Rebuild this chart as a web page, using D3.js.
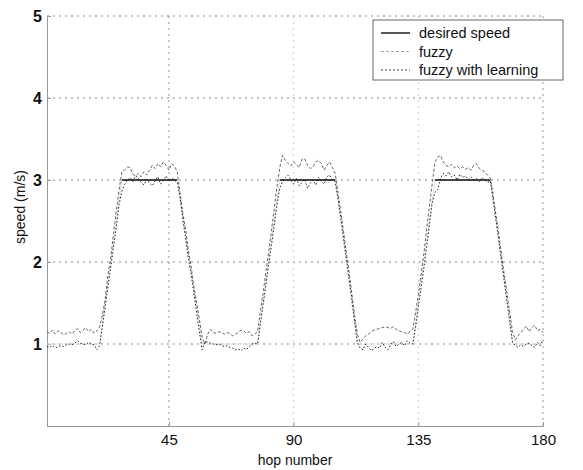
<!DOCTYPE html>
<html lang="en">
<head>
<meta charset="UTF-8" />
<title>speed vs hop number</title>
<script src="https://cdn.jsdelivr.net/npm/d3@7"></script>
<style>
  body { margin: 0; background: #fff; }
  svg { font-family: "Liberation Sans", Arial, sans-serif; }
</style>
</head>
<body>
<div id="chart"></div>
<script>
// desired speed as break points (hop, m/s)
const desiredHops  = [1, 20, 28, 48, 57, 77, 85, 105, 113, 133, 141, 161, 169, 180];
const desiredSpeed = [1, 1, 3, 3, 1, 1, 3, 3, 1, 1, 3, 3, 1, 1];

// fuzzy controller, hop 1..180
const fuzzy = [
  1.15,1.13,1.17,1.12,1.16,1.14,1.11,1.13,1.15,1.12,1.16,1.19,1.14,1.17,1.20,1.15,1.18,1.13,1.16,1.21,
  1.35,1.55,1.85,2.05,2.35,2.62,2.88,3.10,
  3.12,3.16,3.15,3.07,3.05,3.08,3.04,3.10,3.06,3.12,3.18,3.14,3.20,3.16,3.22,3.18,3.12,3.20,3.17,3.10,
  2.85,2.60,2.40,2.15,1.95,1.70,1.50,1.30,1.08,
  1.00,1.12,1.18,1.14,1.13,1.15,1.14,1.12,1.14,1.13,1.10,1.12,1.14,1.17,1.16,1.13,1.15,1.10,1.12,1.15,
  1.40,1.62,1.88,2.12,2.38,2.65,2.92,3.15,
  3.30,3.24,3.20,3.17,3.22,3.19,3.15,3.25,3.26,3.18,3.14,3.16,3.22,3.24,3.20,3.12,3.18,3.22,3.15,3.08,
  2.85,2.62,2.38,2.12,1.88,1.62,1.35,1.12,
  1.02,1.06,1.10,1.12,1.15,1.17,1.18,1.19,1.20,1.21,1.20,1.19,1.21,1.18,1.16,1.15,1.14,1.12,1.15,1.18,
  1.38,1.60,1.85,2.10,2.40,2.68,2.95,3.22,
  3.28,3.30,3.22,3.18,3.16,3.19,3.15,3.17,3.14,3.16,3.13,3.15,3.12,3.18,3.20,3.14,3.12,3.10,3.06,3.02,
  2.82,2.58,2.35,2.10,1.85,1.62,1.38,1.15,
  1.05,1.10,1.14,1.18,1.22,1.15,1.20,1.23,1.16,1.18,1.14
];

// fuzzy with learning, hop 1..180
const learning = [
  0.97,0.96,0.98,0.95,0.97,0.98,0.97,0.99,1.00,0.99,1.01,1.04,1.01,1.00,0.99,1.02,1.00,0.99,0.93,0.98,
  1.22,1.45,1.70,1.93,2.18,2.42,2.70,2.86,
  2.95,3.00,3.03,2.98,3.05,3.02,2.97,2.94,3.01,2.96,2.93,2.99,3.04,2.95,3.00,3.05,2.98,3.02,3.00,2.97,
  2.80,2.52,2.30,2.05,1.85,1.62,1.38,1.15,0.93,
  1.03,1.02,1.01,1.00,0.99,1.00,0.98,0.97,0.98,0.96,0.95,0.93,0.94,0.92,0.95,0.93,0.97,1.00,1.01,1.00,
  1.25,1.48,1.72,1.97,2.20,2.45,2.70,2.90,
  2.98,3.03,3.06,3.00,2.95,3.02,2.93,2.97,3.01,2.90,2.96,3.00,2.94,3.03,2.98,2.95,3.04,3.06,3.00,2.98,
  2.78,2.55,2.30,2.05,1.80,1.55,1.28,1.02,
  0.95,0.93,1.00,0.96,0.92,0.94,0.97,0.95,1.02,0.96,0.93,0.99,1.03,0.97,1.00,1.02,0.98,1.04,1.01,1.00,
  1.20,1.45,1.68,1.92,2.18,2.45,2.72,2.85,
  2.88,3.02,3.08,3.05,3.10,3.04,3.06,3.00,3.07,3.03,3.05,3.01,3.04,3.00,3.02,2.98,3.03,3.00,2.97,2.99,
  2.76,2.52,2.28,2.02,1.78,1.52,1.28,1.02,
  0.98,0.96,0.99,0.97,1.00,1.01,0.98,0.96,1.02,0.98,1.05
];

const xTicks = [45, 90, 135, 180];
const yTicks = [1, 2, 3, 4, 5];
const legendLabels = ["desired speed", "fuzzy", "fuzzy with learning"];

const w = 583, h = 470;
const plotL = 47, plotR = 543, plotT = 16, plotB = 426;

const x = d3.scaleLinear([1, 180], [plotL, plotR]);
const y = d3.scaleLinear([0, 5], [plotB, plotT]);

const svg = d3.select("#chart").append("svg")
  .attr("width", w).attr("height", h);

// grid
svg.append("g").selectAll("line").data(yTicks).join("line")
  .attr("x1", plotL).attr("x2", plotR)
  .attr("y1", d => y(d)).attr("y2", d => y(d))
  .attr("stroke", "#8a8a8a").attr("stroke-width", 1)
  .attr("stroke-dasharray", "2,4");
svg.append("g").selectAll("line").data(xTicks).join("line")
  .attr("y1", plotT).attr("y2", plotB)
  .attr("x1", d => x(d)).attr("x2", d => x(d))
  .attr("stroke", d => d == 45 || d == 180 ? "#999" : "#d0d0d0").attr("stroke-width", 1)
  .attr("stroke-dasharray", "2,4");

// axes
const xAxis = svg.append("g")
  .attr("transform", `translate(0,${plotB})`)
  .call(d3.axisBottom(x).tickValues(xTicks).tickSize(-4).tickPadding(8));
const yAxis = svg.append("g")
  .attr("transform", `translate(${plotL},0)`)
  .call(d3.axisLeft(y).tickValues(yTicks).tickFormat(d3.format("d")).tickSize(-4).tickPadding(5));
[xAxis, yAxis].forEach(g => {
  g.select(".domain").attr("stroke", "#999");
  g.selectAll(".tick line").attr("stroke", "#999");
  g.selectAll("text").attr("fill", "#111").style("font-size", "15px")
    .style("font-family", "Liberation Sans, Arial, sans-serif");
});
yAxis.selectAll("text").style("font-weight", "bold").style("font-size", "16px").attr("dy", "0.36em");

// labels
svg.append("text")
  .attr("x", 295).attr("y", 465)
  .attr("text-anchor", "middle").style("font-size", "14px").attr("fill", "#111")
  .text("hop number");
svg.append("text")
  .attr("transform", "translate(25,207) rotate(-90)")
  .attr("text-anchor", "middle").style("font-size", "14px").attr("fill", "#111")
  .text("speed (m/s)");

// lines
const hops = d3.range(1, 181);
const line = d3.line().x(d => x(d[0])).y(d => y(d[1]));

// desired speed: thin light trace, the 3 m/s plateaus stand out in black
const desiredPts = desiredHops.map((hp, i) => [hp, desiredSpeed[i]]);
svg.append("path")
  .datum(desiredPts)
  .attr("d", line).attr("fill", "none")
  .attr("stroke", "#ddd").attr("stroke-width", 1);

svg.append("path")
  .datum(hops.map((hp, i) => [hp, fuzzy[i]]))
  .attr("d", line).attr("fill", "none")
  .attr("stroke", "#666").attr("stroke-width", 1)
  .attr("stroke-dasharray", "3,2");

svg.append("path")
  .datum(hops.map((hp, i) => [hp, learning[i]]))
  .attr("d", line).attr("fill", "none")
  .attr("stroke", "#222").attr("stroke-width", 1)
  .attr("stroke-dasharray", "1.5,2");

const plateau = d3.line()
  .defined((d, i) => d[1] === 3)
  .x(d => x(d[0])).y(d => y(d[1]));
svg.append("path")
  .datum(desiredPts)
  .attr("d", plateau).attr("fill", "none")
  .attr("stroke", "#111").attr("stroke-width", 1.6);

// legend
const lg = svg.append("g");
lg.append("rect")
  .attr("x", 373).attr("y", 20).attr("width", 190).attr("height", 60)
  .attr("fill", "#fff").attr("stroke", "#666").attr("stroke-width", 1);
const legendStyles = [
  { stroke: "#111", dash: null, width: 1.4 },
  { stroke: "#aaa", dash: "3,2", width: 1 },
  { stroke: "#444", dash: "2,2", width: 1 }
];
legendLabels.forEach((lab, i) => {
  const ly = 33 + i * 18.5;
  lg.append("line")
    .attr("x1", 381).attr("x2", 410).attr("y1", ly).attr("y2", ly)
    .attr("stroke", legendStyles[i].stroke)
    .attr("stroke-width", legendStyles[i].width)
    .attr("stroke-dasharray", legendStyles[i].dash);
  lg.append("text")
    .attr("x", 419).attr("y", ly + 5)
    .style("font-size", "14.5px").attr("fill", "#111")
    .text(lab);
});
</script>
</body>
</html>
